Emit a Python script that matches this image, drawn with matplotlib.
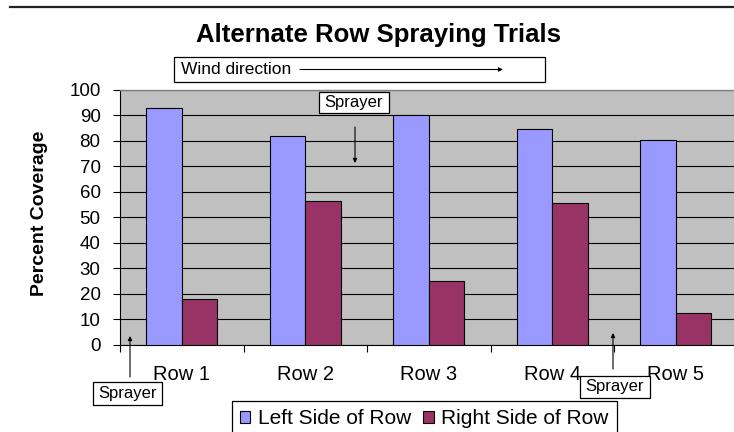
import matplotlib
matplotlib.use("Agg")
import matplotlib.pyplot as plt
from matplotlib.patches import Rectangle, FancyArrowPatch
from matplotlib.lines import Line2D
import numpy as np

plt.rcParams['font.family'] = ['Liberation Sans', 'DejaVu Sans']

categories = ["Row 1", "Row 2", "Row 3", "Row 4", "Row 5"]
left_side = [93, 82, 90, 84.5, 80.5]
right_side = [18, 56.5, 25, 55.5, 12.5]
series_names = ["Left Side of Row", "Right Side of Row"]
yticks = [0, 10, 20, 30, 40, 50, 60, 70, 80, 90, 100]

W, H = 734, 432
fig = plt.figure(figsize=(W / 100, H / 100), dpi=100)

def fx(x):
    return x / W

def fy(y):
    return 1 - y / H

ax = fig.add_axes([fx(120), fy(344.5), fx(737.5) - fx(120), fy(90) - fy(344.5)])
ax.set_facecolor('#C0C0C0')

x = np.arange(len(categories))
bw = 1 / 3.5
b1 = ax.bar(x - bw / 2, left_side, bw, color='#9999FF', edgecolor='black', linewidth=0.8,
            label=series_names[0], zorder=3)
b2 = ax.bar(x + bw / 2, right_side, bw, color='#993366', edgecolor='black', linewidth=0.8,
            label=series_names[1], zorder=3)

ax.set_xlim(-0.5, len(categories) - 0.5)
ax.set_ylim(0, 100)
ax.set_yticks(yticks)
ax.set_yticklabels([str(v) for v in yticks], fontsize=13.5)
ax.yaxis.grid(True, color='black', linewidth=0.8, zorder=0)
ax.set_axisbelow(True)
ax.tick_params(axis='y', direction='out', length=5, width=0.8, pad=9)

ax.set_xticks(np.arange(len(categories) + 1) - 0.5)
ax.set_xticklabels([])
ax.set_xticks(x, minor=True)
ax.set_xticklabels(categories, minor=True, fontsize=14.5)
ax.tick_params(axis='x', which='major', direction='out', length=5, width=0.8)
ax.tick_params(axis='x', which='minor', length=0, pad=15)

for s in ['left', 'bottom']:
    ax.spines[s].set_color('black')
    ax.spines[s].set_linewidth(0.8)
ax.spines['top'].set_color('#808080')
ax.spines['top'].set_linewidth(1)
ax.spines['right'].set_visible(False)

# top rule
fig.add_artist(Line2D([fx(10), fx(734)], [fy(6.5), fy(6.5)], color='#222222', lw=1.6,
                      transform=fig.transFigure))

# title
fig.text(fx(378), fy(35), "Alternate Row Spraying Trials", ha='center', va='center',
         fontsize=18.5, fontweight='bold')

# y label
fig.text(fx(40), fy(213.5), "Percent Coverage", ha='center', va='center', rotation=90,
         fontsize=14, fontweight='bold')

def box(x0, y0, x1, y1):
    fig.add_artist(Rectangle((fx(x0), fy(y1)), fx(x1) - fx(x0), fy(y0) - fy(y1),
                             transform=fig.transFigure, facecolor='white',
                             edgecolor='black', linewidth=0.9, zorder=5))

def arrow(xt, yt, xh, yh):
    fig.add_artist(FancyArrowPatch((fx(xt), fy(yt)), (fx(xh), fy(yh)),
                                   transform=fig.transFigure, arrowstyle='-|>',
                                   color='black', lw=0.8, mutation_scale=6,
                                   shrinkA=0, shrinkB=0, zorder=7))

# wind direction box
box(174, 57, 545, 82)
fig.text(fx(181), fy(69.5), "Wind direction", ha='left', va='center', fontsize=12.5, zorder=6)
arrow(300, 69.5, 503, 69.5)

# sprayer annotations
box(319, 92, 389, 113)
fig.text(fx(354), fy(102.5), "Sprayer", ha='center', va='center', fontsize=12, zorder=6)
arrow(355, 127, 355, 163)

box(93, 382, 162, 405)
fig.text(fx(127.5), fy(393.5), "Sprayer", ha='center', va='center', fontsize=12, zorder=6)
arrow(130, 377, 130, 336)

box(580, 376, 650, 398)
fig.text(fx(615), fy(387), "Sprayer", ha='center', va='center', fontsize=12, zorder=6)
arrow(613, 369, 613, 333)

leg = fig.legend(handles=[b1, b2], loc='upper left', bbox_to_anchor=(fx(231.7), fy(401)),
                 ncol=2, fontsize=15, frameon=True, fancybox=False, framealpha=1,
                 edgecolor='black', handlelength=0.5, handleheight=0.5,
                 handletextpad=0.35, columnspacing=0.6, borderpad=0.4, borderaxespad=0)
leg.get_frame().set_linewidth(0.9)

fig.savefig("out.png", dpi=100)
